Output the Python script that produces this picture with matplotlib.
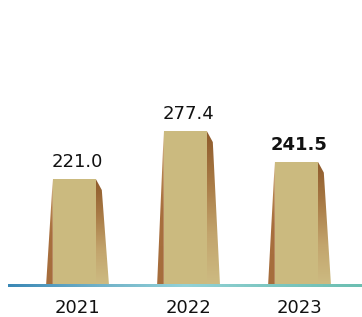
import numpy as np
import matplotlib
matplotlib.use('Agg')
import matplotlib.pyplot as plt
from matplotlib.patches import Polygon
from matplotlib.colors import LinearSegmentedColormap

years = ['2021', '2022', '2023']
values = [221.0, 277.4, 241.5]
value_labels = ['221.0', '277.4', '241.5']
bold_flags = [False, False, True]

W, H = 362, 317
fig = plt.figure(figsize=(W / 100, H / 100), dpi=100)
ax_bottom_px = 30
ax = fig.add_axes([0, ax_bottom_px / H, 1, (H - ax_bottom_px) / H])
ppx = 111.0   # pixels per category unit
x0_px = 77.4
ax.set_xlim(-x0_px / ppx, (W - x0_px) / ppx)
ppy = 0.85    # pixels per value unit
base = 96.3
ymin = base - 2 / ppy
ymax = ymin + (H - ax_bottom_px) / ppy
ax.set_ylim(ymin, ymax)
ax.axis('off')

front_col = '#cbba7f'
sliver_cmap = LinearSegmentedColormap.from_list('sl', ['#c49a5e', '#a86f3e', '#a66d3c'])
side_cmap = LinearSegmentedColormap.from_list('sd', ['#8e5a2b', '#a87a45', '#c2a46c', '#cdbb82'])

sl_l = -31.3 / ppx
fr_l = -24.6 / ppx
fr_r = 18.4 / ppx
sd_r = 31.6 / ppx
cut_dx = 6.0 / ppx
cut_dy = 11.0 / ppy

grad = np.linspace(0, 1, 256).reshape(-1, 1)

for i, v in enumerate(values):
    x = i
    sl = Polygon([(x + fr_l, v), (x + sl_l, base), (x + fr_l, base)], closed=True,
                 facecolor='none', edgecolor='none')
    ax.add_patch(sl)
    im = ax.imshow(grad, cmap=sliver_cmap, aspect='auto',
                   extent=(x + sl_l, x + fr_l, base, v), origin='upper', zorder=2)
    im.set_clip_path(sl)
    ax.add_patch(Polygon([(x + fr_l, base), (x + fr_l, v), (x + fr_r, v), (x + fr_r, base)],
                         closed=True, facecolor=front_col, edgecolor='none', zorder=3))
    sd = Polygon([(x + fr_r, v), (x + fr_r + cut_dx, v - cut_dy), (x + sd_r, base), (x + fr_r, base)],
                 closed=True, facecolor='none', edgecolor='none')
    ax.add_patch(sd)
    im2 = ax.imshow(grad, cmap=side_cmap, aspect='auto',
                    extent=(x + fr_r, x + sd_r, base, v), origin='upper', zorder=2)
    im2.set_clip_path(sd)

    ax.annotate(value_labels[i], xy=(x, v), xytext=(0, 12 * 0.72), textcoords='offset points',
                ha='center', va='baseline', fontsize=13,
                fontweight='bold' if bold_flags[i] else 'normal', color='#111111',
                annotation_clip=False)
    ax.annotate(years[i], xy=(x, ymin), xytext=(0, -26 * 0.72), textcoords='offset points',
                ha='center', va='baseline', fontsize=13, color='#111111',
                annotation_clip=False)

line_cmap = LinearSegmentedColormap.from_list('ln', ['#3b88b6', '#6fb0c8', '#92d2d8', '#7cc6c0', '#6cbfb2'])
lx0 = ax.get_xlim()[0] + 8 / ppx
lx1 = ax.get_xlim()[1]
ax.imshow(np.linspace(0, 1, 256).reshape(1, -1), cmap=line_cmap, aspect='auto',
          extent=(lx0, lx1, base - 2.5 / ppy, base + 0.8 / ppy), zorder=4)

ax.set_xlim(-x0_px / ppx, (W - x0_px) / ppx)
ax.set_ylim(ymin, ymax)
fig.savefig('out.png', dpi=100)
